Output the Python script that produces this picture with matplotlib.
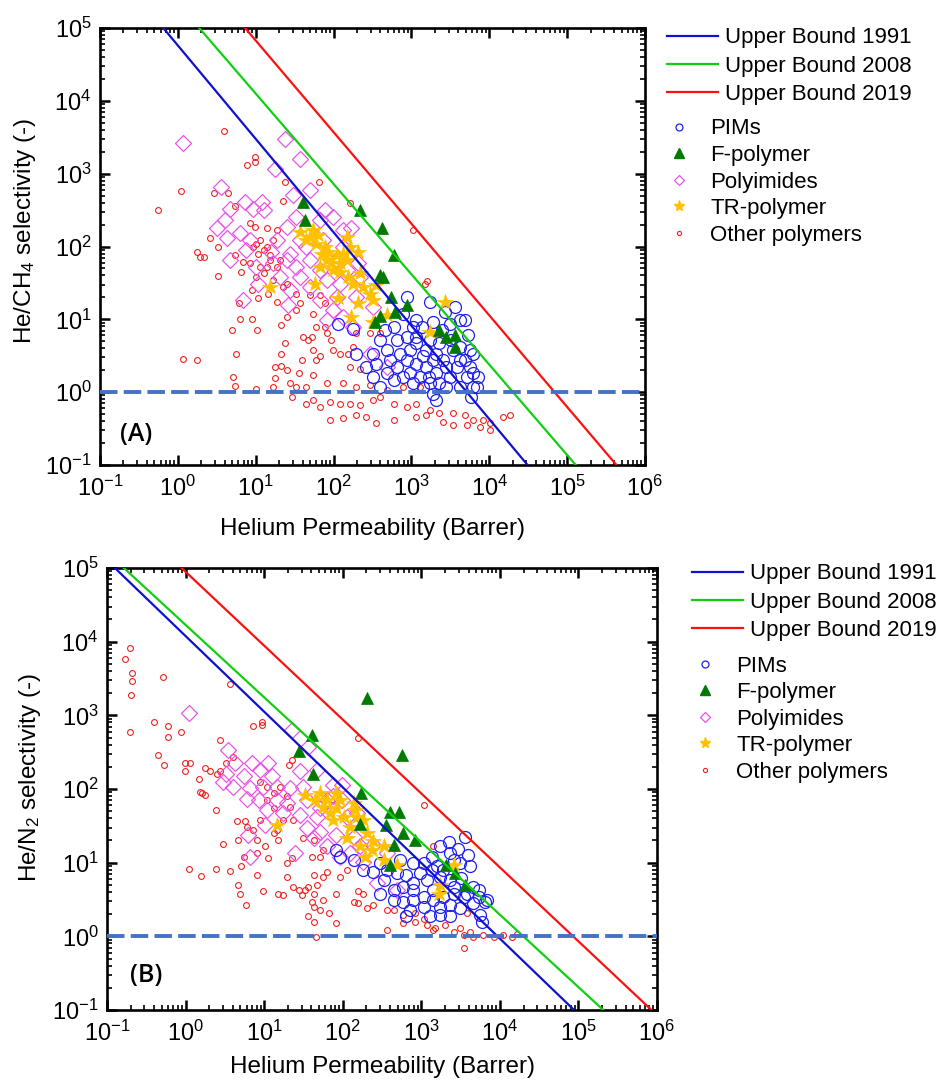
import numpy as np
import matplotlib
matplotlib.use('Agg')
import matplotlib.pyplot as plt
from matplotlib.lines import Line2D
from matplotlib.ticker import LogLocator, NullFormatter, LogFormatterSciNotation

plt.rcParams['font.family'] = ['Liberation Sans', 'DejaVu Sans']
plt.rcParams['mathtext.fontset'] = 'custom'
plt.rcParams['mathtext.rm'] = 'Liberation Sans'
plt.rcParams['mathtext.it'] = 'Liberation Sans:italic'
plt.rcParams['mathtext.bf'] = 'Liberation Sans:bold'
plt.rcParams['mathtext.default'] = 'regular'

# ---------------- DATA (log10 Permeability [Barrer], log10 selectivity) ----------------
# Upper bound lines: permeability where each bound hits selectivity 1e5 and 0.1
ub_labels = ['Upper Bound 1991', 'Upper Bound 2008', 'Upper Bound 2019']
ub_alpha_ends = [1e5, 0.1]
ub_A_P_ends = [[0.65, 3.1e4], [1.88, 1.29e5], [7.3, 4.3e5]]
ub_B_P_ends = [[0.126, 8.8e4], [0.164, 2.07e5], [0.89, 8.5e5]]

series_labels = ['PIMs', 'F-polymer', 'Polyimides', 'TR-polymer', 'Other polymers']

# ---- Panel A : He/CH4 ----
polyimides_A = [(0.06, 3.42), (1.375, 3.47), (1.57, 3.20), (1.25, 3.07), (0.56, 2.82), (1.70, 2.77),
    (1.48, 2.71), (0.86, 2.61), (1.08, 2.61), (0.67, 2.52), (0.97, 2.51), (1.10, 2.50), (1.89, 2.50),
    (1.99, 2.41), (0.60, 2.36), (0.50, 2.25), (0.80, 2.18), (1.52, 2.41), (1.40, 2.27), (1.82, 2.36),
    (2.12, 2.23), (2.23, 2.25), (0.63, 2.11), (0.93, 2.09), (1.27, 2.09), (1.57, 2.09), (1.87, 2.09),
    (0.88, 1.95), (1.20, 1.93), (1.44, 1.90), (1.70, 1.81), (2.04, 1.81), (1.52, 1.72), (1.01, 1.72),
    (1.31, 1.58), (1.82, 1.68), (2.17, 1.68), (2.32, 1.77), (1.57, 1.58), (1.91, 1.54), (2.08, 1.49),
    (1.70, 1.45), (1.44, 1.40), (2.04, 1.31), (1.82, 1.26), (1.42, 1.19), (0.84, 1.26), (1.03, 1.49),
    (2.29, 1.31), (2.51, 1.17), (1.99, 1.13), (1.91, 0.99), (2.25, 0.90), (2.12, 1.03), (2.47, 0.53),
    (2.68, 0.35), (1.225, 1.77), (1.40, 1.81), (2.34, 1.58), (1.65, 2.00), (0.67, 1.81), (2.12, 2.00)]
tr_A = [(1.57, 2.20), (1.74, 2.23), (1.65, 2.09), (1.78, 2.04), (1.85, 1.90), (1.91, 1.81), (1.97, 1.77),
    (2.04, 1.88), (2.12, 1.90), (2.17, 2.13), (2.21, 2.00), (2.32, 1.93), (2.08, 1.65), (2.19, 1.58),
    (2.34, 1.63), (2.25, 1.49), (2.38, 1.45), (2.47, 1.35), (2.51, 1.26), (2.32, 1.22), (2.06, 1.29),
    (1.76, 1.49), (1.18, 1.45), (2.23, 1.03), (2.51, 0.97), (2.68, 1.06), (3.24, 0.83), (3.43, 1.24),
    (1.70, 2.13), (1.82, 1.72), (1.89, 2.00), (1.99, 1.68), (2.17, 1.81), (2.55, 1.47), (1.80, 2.16),
    (1.93, 1.93), (2.08, 1.77)]
fpoly_A = [(1.61, 2.61), (1.63, 2.36), (2.34, 2.50), (2.62, 2.25), (2.77, 1.88), (2.59, 1.61),
    (2.64, 1.58), (2.74, 1.31), (2.94, 1.20), (2.79, 1.10), (2.59, 1.04), (2.53, 0.97), (3.36, 0.85),
    (3.45, 0.76), (3.56, 0.78), (3.56, 0.62)]
pims_A = [(2.06, 0.94), (2.25, 0.87), (2.66, 0.85), (2.94, 1.31), (2.89, 1.08), (3.06, 0.99), (3.24, 1.24),
    (3.28, 0.97), (3.43, 1.10), (3.56, 1.17), (3.62, 0.99), (3.49, 0.94), (3.73, 0.78), (3.75, 0.58),
    (3.69, 0.44), (3.79, 0.26), (3.84, 0.07), (3.77, -0.06), (3.62, 0.07), (3.49, 0.21), (3.45, 0.35),
    (3.32, 0.53), (3.19, 0.58), (3.06, 0.67), (2.94, 0.76), (2.81, 0.71), (2.68, 0.58), (2.51, 0.53),
    (2.42, 0.35), (2.51, 0.21), (2.68, 0.26), (2.81, 0.35), (2.94, 0.44), (3.06, 0.39), (3.19, 0.35),
    (3.32, 0.26), (3.36, 0.12), (3.28, -0.02), (3.15, 0.07), (3.02, 0.12), (2.89, 0.21), (2.77, 0.17),
    (2.59, 0.07), (3.06, 0.76), (3.24, 0.71), (3.36, 0.67), (3.54, 0.58), (3.62, 0.62), (3.58, 0.35),
    (3.71, 0.21), (3.28, 0.44), (2.98, 0.58), (3.11, 0.21), (3.41, 0.44), (3.86, 0.21), (3.32, -0.11),
    (2.29, 0.53), (2.55, 0.39), (2.85, 0.53), (3.15, 0.49), (3.45, 0.07), (3.22, 0.21), (3.69, 0.99),
    (3.79, 0.53), (3.02, 0.90), (2.77, 0.90), (3.51, 0.71), (2.98, 0.26), (2.72, 0.44), (3.62, 0.44),
    (3.24, 0.12), (3.75, 0.35), (3.13, 0.90), (3.39, 0.85), (2.59, 0.71), (3.79, 0.07)]
others_A = [(0.59, 3.58), (0.99, 3.23), (0.99, 3.16), (0.89, 3.12), (0.04, 2.76), (0.46, 2.74), (0.65, 2.74),
    (1.38, 2.89), (1.81, 2.89), (1.35, 2.63), (2.21, 2.60), (-0.25, 2.50), (0.74, 2.55), (0.41, 2.11),
    (0.51, 1.99), (0.25, 1.93), (0.33, 1.86), (0.28, 1.86), (0.73, 1.88), (0.51, 1.59), (0.81, 1.65),
    (0.84, 1.79), (0.93, 1.77), (0.97, 1.99), (1.01, 2.04), (1.05, 2.09), (1.10, 1.95), (1.14, 1.99),
    (1.18, 1.88), (1.225, 2.09), (1.27, 2.22), (1.31, 1.81), (1.14, 1.72), (1.05, 1.72), (1.01, 1.58),
    (1.10, 1.63), (1.225, 1.54), (1.35, 1.45), (1.27, 1.72), (0.93, 2.32), (0.99, 2.27), (1.14, 2.25),
    (1.03, 1.90), (1.18, 1.81), (1.40, 1.49), (0.95, 1.40), (1.16, 1.35), (1.03, 1.29), (1.27, 1.24),
    (0.78, 1.22), (0.80, 1.00), (0.95, 1.01), (0.70, 0.85), (1.02, 0.85), (1.40, 1.03), (1.57, 1.22),
    (1.52, 1.13), (1.74, 1.08), (1.78, 0.90), (1.33, 0.92), (1.61, 0.76), (1.67, 0.71), (1.72, 0.76),
    (1.74, 0.58), (1.91, 0.81), (1.97, 0.71), (1.99, 0.58), (1.82, 0.49), (1.59, 0.44), (1.78, 0.44),
    (1.37, 0.68), (1.33, 0.53), (0.75, 0.53), (0.07, 0.45), (0.25, 0.44), (1.25, 0.34), (1.33, 0.36),
    (1.40, 0.30), (1.55, 0.26), (1.73, 0.23), (2.08, 0.53), (2.19, 0.53), (2.25, 0.62), (2.21, 0.35),
    (2.34, 0.32), (0.71, 0.21), (1.25, 0.19), (0.73, 0.08), (1.01, 0.04), (1.225, 0.07), (1.44, 0.12),
    (1.52, 0.07), (1.65, 0.07), (1.91, 0.12), (2.12, 0.12), (2.29, 0.07), (2.47, 0.10), (2.68, 0.03),
    (2.89, 0.07), (3.11, 0.07), (1.64, -0.16), (1.74, -0.11), (1.82, -0.20), (1.95, -0.13), (2.08, -0.16),
    (2.21, -0.16), (2.34, -0.18), (2.51, -0.11), (2.59, -0.06), (2.77, -0.16), (2.94, -0.20), (3.06, -0.16),
    (3.24, -0.25), (3.36, -0.29), (3.54, -0.29), (3.69, -0.32), (3.79, -0.38), (3.92, -0.38), (4.01, -0.43),
    (4.01, -0.52), (3.88, -0.48), (3.71, -0.45), (3.54, -0.45), (3.41, -0.41), (3.19, -0.32), (3.06, -0.34),
    (2.77, -0.38), (2.55, -0.43), (2.42, -0.34), (2.29, -0.32), (2.12, -0.36), (1.95, -0.38), (2.29, 0.81),
    (2.47, 0.81), (2.59, 0.81), (1.46, -0.06), (1.82, 1.33), (1.89, 1.22), (1.52, 1.35), (1.70, 1.33),
    (1.89, 0.90), (3.02, 2.23), (3.17, 1.49), (3.20, 1.52), (4.18, -0.34), (4.26, -0.32)]

# ---- Panel B : He/N2 ----
fpoly_B = [(2.31, 3.23), (1.61, 2.73), (1.44, 2.51), (2.75, 2.46), (1.62, 2.21), (2.23, 1.94), (2.60, 1.69),
    (2.72, 1.69), (2.55, 1.51), (2.77, 1.40), (2.92, 1.31), (2.65, 1.24), (3.32, 0.97), (3.43, 0.86),
    (3.56, 0.70), (2.60, 0.97), (2.22, 1.53)]
polyimides_B = [(0.04, 3.03), (1.35, 2.80), (0.54, 2.53), (1.56, 2.57), (0.63, 2.35), (0.84, 2.35),
    (1.05, 2.35), (0.95, 2.26), (1.67, 2.26), (1.46, 2.24), (0.52, 2.21), (0.74, 2.17), (1.10, 2.17),
    (0.48, 2.10), (0.61, 2.03), (0.82, 2.01), (0.99, 2.03), (1.16, 2.03), (1.33, 2.01), (1.50, 2.03),
    (1.88, 2.05), (1.99, 2.05), (0.78, 1.87), (0.93, 1.85), (1.29, 1.81), (1.54, 1.85), (1.80, 1.85),
    (1.88, 1.90), (1.03, 1.72), (1.24, 1.67), (1.46, 1.65), (1.67, 1.62), (1.01, 1.51), (1.54, 1.47),
    (1.71, 1.42), (1.92, 1.38), (2.14, 1.35), (1.63, 1.33), (0.80, 1.38), (1.80, 1.22), (1.97, 1.08),
    (2.09, 1.13), (1.39, 1.13), (0.82, 1.08), (2.26, 1.01), (2.43, 0.72), (2.69, 0.63), (1.71, 1.74),
    (1.16, 1.85), (1.99, 1.85), (2.18, 1.67), (2.05, 1.62), (2.39, 1.24), (2.56, 1.13), (2.22, 1.22)]
tr_B = [(1.52, 1.92), (1.71, 1.94), (1.75, 1.76), (1.84, 1.67), (1.92, 1.74), (2.01, 1.62), (2.14, 1.81),
    (2.18, 1.62), (2.09, 1.49), (2.26, 1.58), (2.31, 1.40), (2.05, 1.33), (2.22, 1.22), (2.39, 1.29),
    (2.52, 1.22), (2.28, 1.08), (2.52, 1.04), (2.69, 0.97), (1.16, 1.51), (1.88, 1.58), (1.80, 1.85),
    (1.97, 1.85), (2.16, 1.72), (2.37, 1.17), (3.41, 0.97), (3.24, 0.70), (3.22, 0.58), (1.65, 1.85),
    (1.92, 1.94)]
pims_B = [(3.56, 1.35), (3.35, 1.28), (3.47, 1.19), (3.24, 1.22), (3.13, 1.08), (3.60, 1.10), (3.41, 1.04),
    (3.20, 0.95), (3.03, 0.99), (2.90, 0.99), (2.98, 0.86), (2.81, 0.83), (2.69, 0.86), (2.56, 0.90),
    (2.48, 0.99), (2.26, 0.90), (1.97, 1.08), (1.92, 1.17), (2.52, 0.77), (2.48, 0.58), (2.65, 0.63),
    (2.77, 0.67), (2.90, 0.72), (3.07, 0.77), (3.24, 0.81), (3.37, 0.77), (3.51, 0.79), (3.66, 0.67),
    (3.73, 0.54), (3.81, 0.47), (3.66, 0.45), (3.54, 0.54), (3.41, 0.58), (3.28, 0.54), (3.15, 0.49),
    (3.03, 0.54), (2.90, 0.49), (2.77, 0.47), (2.86, 0.36), (3.03, 0.40), (3.24, 0.40), (3.37, 0.42),
    (3.49, 0.38), (3.75, 0.29), (3.77, 0.20), (3.24, 0.29), (3.11, 0.27), (3.62, 0.95), (3.73, 0.63),
    (2.65, 0.49), (2.90, 0.63), (3.15, 0.63), (3.41, 0.67), (2.39, 0.88), (2.14, 1.04), (3.37, 1.13),
    (3.49, 0.99), (3.13, 0.90), (3.28, 0.90), (2.73, 1.04), (3.58, 0.58), (3.83, 0.49), (2.81, 0.27),
    (3.37, 0.27)]
others_B = [(-0.71, 3.92), (-0.77, 3.77), (-0.68, 3.58), (-0.68, 3.46), (-0.69, 3.28), (-0.29, 3.52),
    (0.57, 3.43), (-0.71, 2.78), (-0.40, 2.91), (-0.22, 2.85), (-0.22, 2.71), (-0.06, 2.78), (0.86, 2.85),
    (0.97, 2.87), (0.97, 2.91), (0.44, 2.67), (-0.35, 2.46), (-0.28, 2.32), (-0.01, 2.25), (0.06, 2.35),
    (-0.01, 2.35), (0.17, 2.14), (0.25, 2.28), (0.31, 2.24), (0.40, 2.21), (0.44, 2.24), (0.52, 2.35),
    (0.61, 2.44), (0.21, 1.94), (0.18, 1.96), (0.25, 1.92), (0.39, 1.72), (0.65, 1.57), (0.76, 1.56),
    (0.48, 1.25), (0.67, 1.31), (0.91, 1.31), (1.01, 1.22), (0.86, 1.44), (0.78, 1.49), (0.95, 1.58),
    (1.12, 1.40), (1.18, 1.31), (1.16, 1.44), (0.91, 1.13), (0.74, 1.08), (1.05, 1.06), (0.04, 0.91),
    (0.20, 0.82), (0.39, 0.92), (0.57, 0.89), (0.71, 0.95), (0.91, 0.83), (0.67, 0.70), (0.69, 0.58),
    (0.99, 0.61), (0.77, 0.42), (1.18, 0.58), (1.24, 0.56), (1.29, 0.99), (1.35, 1.06), (1.29, 0.81),
    (1.37, 0.67), (1.44, 0.63), (1.48, 0.56), (1.52, 0.63), (1.56, 0.67), (1.63, 0.58), (1.67, 0.70),
    (1.63, 0.83), (1.75, 0.81), (1.80, 0.88), (1.61, 1.08), (1.71, 1.08), (1.50, 1.33), (1.63, 1.31),
    (1.75, 1.17), (1.61, 0.47), (1.75, 0.49), (1.63, 0.40), (1.71, 0.36), (1.56, 0.27), (1.63, 0.20),
    (1.82, 0.31), (1.92, 0.58), (1.92, 0.18), (2.14, 0.47), (2.20, 0.45), (2.26, 0.58), (2.31, 0.38),
    (2.39, 0.42), (2.56, 0.36), (2.65, 0.36), (2.77, 0.29), (2.77, 0.18), (2.92, 0.31), (2.92, 0.20),
    (3.03, 0.24), (3.07, 0.15), (3.18, 0.11), (3.30, 0.15), (3.15, 0.09), (3.41, 0.06), (3.54, 0.02),
    (3.62, 0.06), (3.66, -0.01), (3.79, 0.02), (3.92, -0.01), (4.04, 0.02), (4.15, -0.01), (4.22, 0.03),
    (3.54, -0.16), (2.56, 0.09), (1.66, -0.01), (3.15, 1.22), (3.04, 1.78), (2.20, 2.69), (1.88, 1.78),
    (1.97, 0.81), (2.05, 0.90), (2.20, 0.61), (3.58, 0.31), (3.49, 0.11), (0.95, 2.10), (1.03, 2.03),
    (1.12, 1.94), (1.20, 2.03), (1.29, 1.90), (1.33, 1.76), (1.37, 1.58), (1.12, 1.74), (1.03, 1.85),
    (1.24, 1.58), (1.31, 2.33), (1.35, 2.39)]

# ---------------- STYLE ----------------
ub_colors = ['#1010D0', '#10D010', '#FF1010']
dash_color = '#4472C4'
FS = 16
TICK_FS = 17

fig = plt.figure(figsize=(9.41, 10.86), dpi=100)
W, H = 941.0, 1086.0
axA = fig.add_axes([100 / W, 1 - 465 / H, 545 / W, 437 / H])
axB = fig.add_axes([107 / W, 1 - 1010 / H, 550 / W, 442 / H])


def pts(lst):
    arr = np.array(lst, dtype=float)
    return np.power(10.0, arr[:, 0]), np.power(10.0, arr[:, 1])


def draw(ax, ub_ends, others, polyimides, pims, tr, fpoly):
    x, y = pts(others)
    ax.plot(x, y, ls='none', marker='o', ms=4.2, mfc='none', mec='#F02020', mew=0.8, zorder=2)
    x, y = pts(polyimides)
    ax.plot(x, y, ls='none', marker='D', ms=8.0, mfc='none', mec='#E855E8', mew=0.9, zorder=3)
    x, y = pts(pims)
    ax.plot(x, y, ls='none', marker='o', ms=8.6, mfc='none', mec='#2020F0', mew=0.9, zorder=4)
    x, y = pts(tr)
    ax.plot(x, y, ls='none', marker='*', ms=11.5, mfc='#FFC000', mec='#FFC000', mew=0.5, zorder=5)
    x, y = pts(fpoly)
    ax.plot(x, y, ls='none', marker='^', ms=9.0, mfc='#007A00', mec='#007A00', mew=0.5, zorder=6)
    for ends, c in zip(ub_ends, ub_colors):
        ax.plot(ends, ub_alpha_ends, color=c, lw=1.6, zorder=7)
    ax.axhline(1.0, color=dash_color, lw=2.8, dashes=(4.5, 1.6), zorder=8)

    ax.set_xscale('log')
    ax.set_yscale('log')
    ax.set_xlim(1e-1, 1e6)
    ax.set_ylim(1e-1, 1e5)
    for axis in (ax.xaxis, ax.yaxis):
        axis.set_major_locator(LogLocator(base=10, numticks=20))
        axis.set_minor_locator(LogLocator(base=10, subs=np.arange(2, 10), numticks=200))
        axis.set_minor_formatter(NullFormatter())
        axis.set_major_formatter(LogFormatterSciNotation())
    ax.tick_params(which='both', direction='in', top=True, right=True, labelsize=TICK_FS)
    ax.tick_params(which='major', length=7, width=1.8)
    ax.tick_params(which='minor', length=3.5, width=1.2)
    ax.tick_params(axis='x', which='major', pad=8)
    ax.tick_params(axis='y', which='major', pad=6)
    for s in ax.spines.values():
        s.set_linewidth(1.9)


draw(axA, ub_A_P_ends, others_A, polyimides_A, pims_A, tr_A, fpoly_A)
draw(axB, ub_B_P_ends, others_B, polyimides_B, pims_B, tr_B, fpoly_B)

axA.set_xlabel('Helium Permeability (Barrer)', fontsize=17.5)
axA.set_ylabel('He/CH$_4$ selectivity (-)', fontsize=17.5)
axA.xaxis.set_label_coords(0.5, -0.121)
axA.yaxis.set_label_coords(-0.114, 0.535)
axB.set_xlabel('Helium Permeability (Barrer)', fontsize=17.5)
axB.set_ylabel('He/N$_2$ selectivity (-)', fontsize=17.5)
axB.xaxis.set_label_coords(0.5, -0.104)
axB.yaxis.set_label_coords(-0.116, 0.525)

axA.text(0.037, 0.069, '(A)', transform=axA.transAxes, fontsize=18, fontweight='semibold',
         family=['Open Sans', 'DejaVu Sans'], ha='left', va='center', zorder=9)
axB.text(0.042, 0.077, '(B)', transform=axB.transAxes, fontsize=18, fontweight='semibold',
         family=['Open Sans', 'DejaVu Sans'], ha='left', va='center', zorder=9)

# ---------------- LEGENDS ----------------
line_handles = [Line2D([], [], color=c, lw=1.6) for c in ub_colors]
marker_handles = [
    Line2D([], [], ls='none', marker='o', ms=5.0, mfc='none', mec='#2020F0', mew=0.9),
    Line2D([], [], ls='none', marker='^', ms=6.5, mfc='#007A00', mec='#007A00'),
    Line2D([], [], ls='none', marker='D', ms=5.5, mfc='none', mec='#E855E8', mew=0.9),
    Line2D([], [], ls='none', marker='*', ms=8.0, mfc='#FFC000', mec='#FFC000'),
    Line2D([], [], ls='none', marker='o', ms=3.0, mfc='none', mec='#F02020', mew=0.8),
]


def add_legends(line_xy, marker_xy):
    fig.legend(line_handles, ub_labels, loc='upper left',
               bbox_to_anchor=(line_xy[0] / W, 1 - line_xy[1] / H), bbox_transform=fig.transFigure,
               frameon=False, fontsize=FS, borderpad=0, borderaxespad=0, handlelength=2.3,
               handletextpad=0.3, labelspacing=0.32)
    fig.legend(marker_handles, series_labels, loc='upper left',
               bbox_to_anchor=(marker_xy[0] / W, 1 - marker_xy[1] / H), bbox_transform=fig.transFigure,
               frameon=False, fontsize=FS, borderpad=0, borderaxespad=0, handlelength=1.0,
               handletextpad=0.9, labelspacing=0.25)


add_legends((667, 27.5), (668, 118.5))
add_legends((692, 563.5), (694, 655.5))

fig.savefig('out.png', dpi=100)
